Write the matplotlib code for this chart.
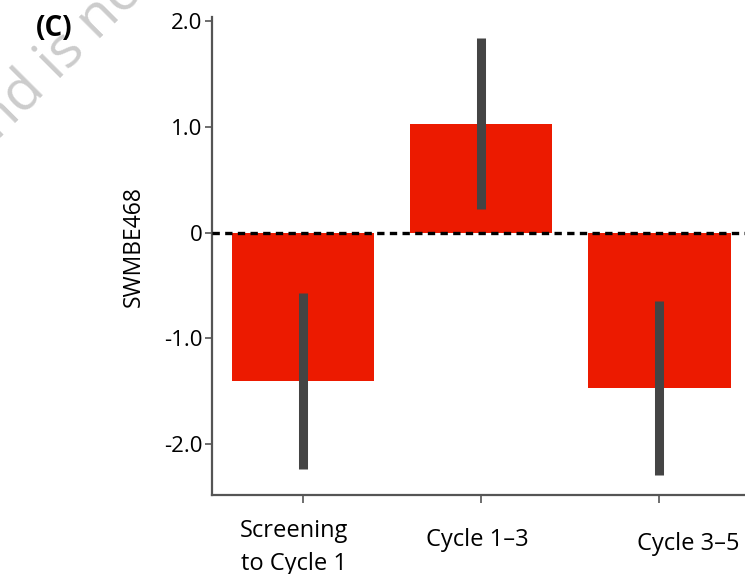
import matplotlib
matplotlib.use("Agg")
import matplotlib.pyplot as plt
import matplotlib.transforms as mtransforms
import numpy as np

categories = ["Screening\nto Cycle 1", "Cycle 1\u20133", "Cycle 3\u20135"]
means = [-1.40, 1.03, -1.47]
errors = [0.83, 0.81, 0.82]
yticks = [2.0, 1.0, 0.0, -1.0, -2.0]
yticklabels = ["2.0", "1.0", "0", "-1.0", "-2.0"]
ylabel = "SWMBE468"
panel = "(C)"

plt.rcParams['font.family'] = ['Open Sans', 'DejaVu Sans']

fig = plt.figure(figsize=(7.45, 5.74), dpi=100)
ax = fig.add_axes([212/745, 1 - 495/574, 1 - 212/745, (495 - 17)/574])

x = np.arange(len(categories))
ax.bar(x, means, width=0.8, color="#EC1A00", zorder=2)
ax.errorbar(x, means, yerr=errors, fmt="none", ecolor="#444444",
            elinewidth=6.5, capsize=0, zorder=4)
ax.axhline(0, color="black", linestyle=(0, (2.2, 1.6)), linewidth=2.4, zorder=3)

ax.set_xlim(-0.51, 2.48)
ax.set_ylim(-2.48, 2.04)
ax.set_yticks(yticks)
ax.set_yticklabels(yticklabels)
ax.set_xticks(x)
ax.set_xticklabels(categories)

for s in ["top", "right"]:
    ax.spines[s].set_visible(False)
for s in ["left", "bottom"]:
    ax.spines[s].set_color("#555555")
    ax.spines[s].set_linewidth(1.6)

ax.tick_params(axis="y", length=5, width=1.2, color="#555555", pad=2, labelsize=16)
ax.tick_params(axis="x", length=6, width=1.2, color="#555555", pad=14, labelsize=17)

# manual offsets of the x tick labels as in reference
offsets = [(-9, 4), (-4, -5), (29, -9)]
for lab, (dx, dy) in zip(ax.get_xticklabels(), offsets):
    lab.set_transform(lab.get_transform() + mtransforms.ScaledTranslation(dx/100, dy/100, fig.dpi_scale_trans))
    lab.set_linespacing(1.5)

ax.set_ylabel(ylabel, fontsize=16.5)
ax.yaxis.set_label_coords(-0.124, 0.52)

fig.text(36/745, 1 - 29/574, panel, fontsize=20, fontweight="bold", va="center", ha="left")

# watermark fragment
fig.text(-0.074, 0.895, "and is not", fontsize=41, color="#cccccc", rotation=45,
         ha="left", va="center", zorder=0)

fig.savefig("out.png", dpi=100)
